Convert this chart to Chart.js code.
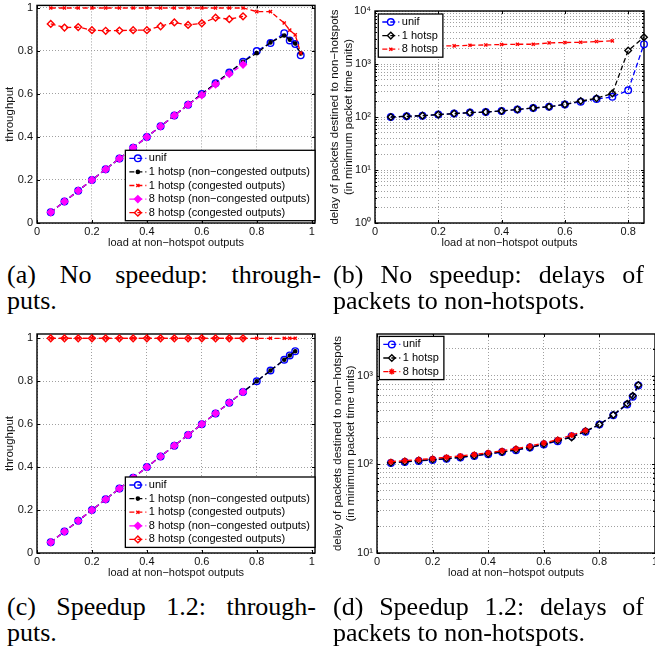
<!DOCTYPE html>
<html>
<head>
<meta charset="utf-8">
<title>Throughput and delay under hotspot traffic</title>
<script src="https://cdn.jsdelivr.net/npm/chart.js@4.4.1/dist/chart.umd.min.js"></script>
<style>
  html, body { margin: 0; padding: 0; background: #fff; overflow: hidden; }
  #sheet { position: relative; width: 655px; height: 650px; overflow: hidden; }
  #sheet canvas { position: absolute; }
  .cap {
    position: absolute;
    font-family: "Liberation Serif", "Times New Roman", serif;
    font-size: 26px;
    line-height: 26px;
    color: #000;
    white-space: nowrap;
  }
  .cap .l1 { text-align: justify; text-align-last: justify; }
</style>
</head>
<body>
<div id="sheet">
  <canvas id="chartA" width="330" height="252" style="left:0;top:0"></canvas>
  <canvas id="chartB" width="330" height="252" style="left:325px;top:0"></canvas>
  <canvas id="chartC" width="330" height="252" style="left:0;top:328px"></canvas>
  <canvas id="chartD" width="360" height="252" style="left:325px;top:328px"></canvas>

  <div class="cap" style="left:7px;top:262px;width:314px"><div class="l1">(a) No speedup: through-</div><div>puts.</div></div>
  <div class="cap" style="left:333px;top:262px;width:311px"><div class="l1">(b) No speedup: delays of</div><div>packets to non-hotspots.</div></div>
  <div class="cap" style="left:7px;top:594px;width:309px"><div class="l1">(c) Speedup 1.2: through-</div><div>puts.</div></div>
  <div class="cap" style="left:333px;top:594px;width:311px"><div class="l1">(d) Speedup 1.2: delays of</div><div>packets to non-hotspots.</div></div>
</div>

<script>
'use strict';
// ─────────────────────────────────────────────
//  DATA
// ─────────────────────────────────────────────

const LABELS_THR = [
  'unif',
  '1 hotsp (non−congested outputs)',
  '1 hotsp (congested outputs)',
  '8 hotsp (non−congested outputs)',
  '8 hotsp (congested outputs)',
];
const LABELS_DELAY = ['unif', '1 hotsp', '8 hotsp'];

const X_TITLE = 'load at non−hotspot outputs';
const Y_TITLE_THR = 'throughput';
const Y_TITLE_DELAY = ['delay of packets destined to non−hotspots', '(in minimum packet time units)'];

const X_TICKS = [0, 0.2, 0.4, 0.6, 0.8, 1];
const X_TICKS_B = [0, 0.2, 0.4, 0.6, 0.8];
const Y_TICKS_THR = [0, 0.2, 0.4, 0.6, 0.8, 1];
const Y_DECADES_B = [1, 10, 100, 1000, 10000];
const Y_DECADE_LABELS_B = ['10⁰', '10¹', '10²', '10³', '10⁴'];
const Y_DECADES_D = [10, 100, 1000];
const Y_DECADE_LABELS_D = ['10¹', '10²', '10³'];

// loads
const LOAD_A = [0.05, 0.1, 0.15, 0.2, 0.25, 0.3, 0.35, 0.4, 0.45, 0.5, 0.55, 0.6, 0.65, 0.7, 0.75, 0.8, 0.85, 0.9, 0.92, 0.94, 0.96];
const LOAD_TO_75 = [0.05, 0.1, 0.15, 0.2, 0.25, 0.3, 0.35, 0.4, 0.45, 0.5, 0.55, 0.6, 0.65, 0.7, 0.75];
const LOAD_B = [0.05, 0.1, 0.15, 0.2, 0.25, 0.3, 0.35, 0.4, 0.45, 0.5, 0.55, 0.6, 0.65, 0.7, 0.75, 0.8, 0.85];
const LOAD_B_HOT8 = [0.2, 0.25, 0.3, 0.35, 0.4, 0.45, 0.5, 0.55, 0.6, 0.65, 0.7, 0.75];
const LOAD_C = [0.05, 0.1, 0.15, 0.2, 0.25, 0.3, 0.35, 0.4, 0.45, 0.5, 0.55, 0.6, 0.65, 0.7, 0.75, 0.8, 0.85, 0.9, 0.92, 0.94];

// (a) no speedup, throughput
const A_UNIF      = [0.05, 0.1, 0.15, 0.2, 0.25, 0.3, 0.35, 0.4, 0.45, 0.5, 0.55, 0.6, 0.65, 0.7, 0.75, 0.8, 0.837, 0.883, 0.849, 0.832, 0.78];
const A_HOT1      = [0.05, 0.1, 0.15, 0.2, 0.25, 0.3, 0.35, 0.4, 0.45, 0.5, 0.55, 0.6, 0.65, 0.7, 0.75, 0.79, 0.84, 0.872, 0.853, 0.835, 0.788];
const A_HOT1_CONG = [1, 1, 1, 1, 1, 1, 1, 1, 1, 1, 1, 1, 1, 1, 1, 0.983, 0.983, 0.93, 0.897, 0.875, 0.79];
const A_HOT8      = [0.05, 0.1, 0.15, 0.2, 0.25, 0.3, 0.35, 0.4, 0.45, 0.5, 0.55, 0.595, 0.645, 0.694, 0.737];
const A_HOT8_CONG = [0.926, 0.909, 0.911, 0.897, 0.894, 0.895, 0.897, 0.897, 0.915, 0.933, 0.921, 0.929, 0.955, 0.948, 0.961];

// (b) no speedup, delay
const B_UNIF = [100, 103, 106, 111, 116, 121, 124, 130, 139, 148, 156, 173, 194, 218, 240, 318, 2370];
const B_HOT1 = [100, 103, 106, 111, 116, 121, 124, 130, 139, 148, 156, 173, 200, 225, 279, 1795, 3200];
const B_HOT8 = [2200, 2200, 2260, 2290, 2330, 2360, 2360, 2500, 2540, 2570, 2650, 2730];

// (c) speedup 1.2, throughput
const C_UNIF      = [0.05, 0.1, 0.15, 0.2, 0.25, 0.3, 0.35, 0.4, 0.45, 0.5, 0.55, 0.6, 0.65, 0.7, 0.75, 0.8, 0.85, 0.9, 0.92, 0.94];
const C_HOT1      = [0.05, 0.1, 0.15, 0.2, 0.25, 0.3, 0.35, 0.4, 0.45, 0.5, 0.55, 0.6, 0.65, 0.7, 0.75, 0.8, 0.85, 0.9, 0.92, 0.94];
const C_HOT1_CONG = [1, 1, 1, 1, 1, 1, 1, 1, 1, 1, 1, 1, 1, 1, 1, 1, 1, 1, 1, 1];
const C_HOT8      = [0.05, 0.1, 0.15, 0.2, 0.25, 0.3, 0.35, 0.4, 0.45, 0.5, 0.55, 0.6, 0.65, 0.7, 0.75];
const C_HOT8_CONG = [1, 1, 1, 1, 1, 1, 1, 1, 1, 1, 1, 1, 1, 1, 1];

// (d) speedup 1.2, delay
const D_UNIF = [103, 106, 109, 112, 115, 119, 124, 130, 137, 144, 154, 167, 182, 207, 232, 280, 357, 470, 575, 770];
const D_HOT1 = [104, 107, 110, 113, 116, 120, 125, 131, 138, 146, 155, 169, 185, 200, 236, 281, 360, 480, 590, 780];
const D_HOT8 = [107, 110, 113, 116, 120, 124, 129, 135, 142, 150, 160, 174, 190, 213, 240];

// ─────────────────────────────────────────────
//  STYLES
// ─────────────────────────────────────────────

const FONT = '"Liberation Sans", Arial, Helvetica, sans-serif';
Chart.defaults.font.family = FONT;
Chart.defaults.font.size = 11;
Chart.defaults.color = '#111';

const MARK = {
  unif:    { color: '#0000ff', pointStyle: 'circle',   radius: 3.3, fill: 'rgba(0,0,0,0)' },
  dot:     { color: '#000000', pointStyle: 'circle',   radius: 1.6, fill: '#000000' },
  xRed:    { color: '#ff0000', pointStyle: 'crossRot', radius: 2.2, fill: 'rgba(0,0,0,0)' },
  diaMag:  { color: '#ff00ff', pointStyle: 'rectRot',  radius: 3.4, fill: '#ff00ff' },
  diaRed:  { color: '#ff0000', pointStyle: 'rectRot',  radius: 3.4, fill: 'rgba(0,0,0,0)' },
  diaBlk:  { color: '#000000', pointStyle: 'rectRot',  radius: 3.3, fill: 'rgba(0,0,0,0)' },
  starRed: { color: '#ff0000', pointStyle: 'star',     radius: 3.0, fill: '#ff0000' },
};

const pts = (xs, ys) => ys.map((y, i) => ({ x: xs[i], y }));

function series(label, xs, ys, mark) {
  return {
    label,
    data: pts(xs, ys),
    borderColor: mark.color,
    borderWidth: 1.3,
    borderDash: [5, 3],
    pointStyle: mark.pointStyle,
    pointRadius: mark.radius,
    pointBorderColor: mark.color,
    pointBackgroundColor: mark.fill,
    pointBorderWidth: 1.4,
    tension: 0,
    clip: false,
  };
}

function logTicks(lo, hi) {
  const out = [];
  for (let d = lo; d <= hi; d *= 10) {
    for (let m = 1; m <= 9; m++) {
      if (d * m <= hi) out.push(d * m);
    }
  }
  return out;
}

// axis box with inward tick marks
const frameBox = {
  id: 'frameBox',
  beforeDatasetsDraw(chart) {
    const { ctx, chartArea: a, scales: { x, y } } = chart;
    ctx.save();
    ctx.strokeStyle = '#000';
    ctx.lineWidth = 1;
    ctx.beginPath();
    x.ticks.forEach(t => {
      const px = Math.round(x.getPixelForValue(t.value)) + 0.5;
      ctx.moveTo(px, a.bottom); ctx.lineTo(px, a.bottom - 3);
      ctx.moveTo(px, a.top); ctx.lineTo(px, a.top + 3);
    });
    y.ticks.forEach(t => {
      const py = Math.round(y.getPixelForValue(t.value)) + 0.5;
      const len = t.label ? 3 : 2;
      ctx.moveTo(a.left, py); ctx.lineTo(a.left + len, py);
      ctx.moveTo(a.right, py); ctx.lineTo(a.right - len, py);
    });
    ctx.stroke();
    ctx.lineWidth = 1.4;
    ctx.strokeRect(a.left, a.top, a.right - a.left, a.bottom - a.top);
    ctx.restore();
  },
};

// boxed legend placed inside the plot area
const boxLegend = {
  id: 'boxLegend',
  afterDatasetsDraw(chart, args, o) {
    const { ctx, chartArea: a } = chart;
    const items = chart.data.datasets;
    ctx.save();
    ctx.font = '11px ' + FONT;
    const textW = Math.max(...items.map(d => ctx.measureText(d.label).width));
    const rowH = 13.6;
    const w = 23.5 + textW + 5;
    const h = items.length * rowH + 2.4;
    const left = o.corner === 'nw' ? a.left + o.dx : a.right - o.dx - w;
    const top = o.corner === 'nw' ? a.top + o.dy : a.bottom - o.dy - h;

    ctx.fillStyle = '#fff';
    ctx.fillRect(left, top, w, h);
    ctx.strokeStyle = '#000';
    ctx.lineWidth = 1.3;
    ctx.strokeRect(left, top, w, h);

    items.forEach((d, i) => {
      const cy = top + 1.2 + rowH * (i + 0.5);
      ctx.strokeStyle = d.borderColor;
      ctx.lineWidth = d.borderWidth;
      ctx.setLineDash(d.borderDash);
      ctx.beginPath();
      ctx.moveTo(left + 4, cy);
      ctx.lineTo(left + 21, cy);
      ctx.stroke();
      ctx.setLineDash([]);

      ctx.strokeStyle = d.pointBorderColor;
      ctx.fillStyle = d.pointBackgroundColor;
      ctx.lineWidth = d.pointBorderWidth;
      Chart.helpers.drawPoint(ctx, {
        pointStyle: d.pointStyle, radius: d.pointRadius, rotation: 0, borderWidth: d.pointBorderWidth,
      }, left + 12.5, cy);

      ctx.fillStyle = '#000';
      ctx.textBaseline = 'middle';
      ctx.textAlign = 'left';
      ctx.fillText(d.label, left + 23.5, cy);
    });
    ctx.restore();
  },
};

function makePanel(id, cfg) {
  const canvas = document.getElementById(id);
  const W = canvas.width, H = canvas.height, a = cfg.area;
  const grid = { color: '#a0a0a0', lineWidth: 1, drawTicks: false };
  const border = { display: false, dash: [1, 2] };

  return new Chart(canvas, {
    type: 'line',
    data: { datasets: cfg.datasets.map((d, i) => ({ ...d, order: -i })) },
    options: {
      responsive: false,
      animation: false,
      devicePixelRatio: 1,
      events: [],
      layout: { padding: { left: 0, top: a.top, right: W - a.right, bottom: 0 } },
      plugins: {
        legend: { display: false },
        tooltip: { enabled: false },
        boxLegend: cfg.legend,
      },
      scales: {
        x: {
          type: 'linear',
          min: 0,
          max: cfg.xMax,
          grid, border,
          afterBuildTicks: s => { s.ticks = cfg.xTicks.map(v => ({ value: v })); },
          afterFit: s => { s.height = H - a.bottom; s.paddingLeft = 0; s.paddingRight = 0; },
          ticks: { autoSkip: false, maxRotation: 0, padding: 2, callback: v => String(v) },
          title: { display: true, text: X_TITLE, padding: { top: 0, bottom: cfg.xTitlePad } },
        },
        y: {
          type: cfg.yLog ? 'logarithmic' : 'linear',
          min: cfg.yMin,
          max: cfg.yMax,
          grid, border,
          afterBuildTicks: s => { s.ticks = cfg.yTicks.map(v => ({ value: v })); },
          afterFit: s => { s.width = a.left; s.paddingTop = 0; s.paddingBottom = 0; },
          ticks: { autoSkip: false, padding: 4, callback: cfg.yLabel },
          title: { display: true, text: cfg.yTitle, font: { size: 11.5 }, padding: { top: cfg.yTitlePad, bottom: 0 } },
        },
      },
    },
    plugins: [frameBox, boxLegend],
  });
}

const plainLabel = v => String(v);
const decadeLabel = (decades, labels) => v => {
  const k = decades.indexOf(v);
  return k < 0 ? '' : labels[k];
};

// (a)
makePanel('chartA', {
  area: { left: 37, top: 4, right: 315, bottom: 223 },
  xMax: 1.012, xTicks: X_TICKS, xTitlePad: 2.4,
  yMin: 0, yMax: 1.012, yTicks: Y_TICKS_THR, yLabel: plainLabel,
  yTitle: Y_TITLE_THR, yTitlePad: 3.2,
  legend: { corner: 'se', dx: 0, dy: 2.3 },
  datasets: [
    series(LABELS_THR[0], LOAD_A, A_UNIF, MARK.unif),
    series(LABELS_THR[1], LOAD_A, A_HOT1, MARK.dot),
    series(LABELS_THR[2], LOAD_A, A_HOT1_CONG, MARK.xRed),
    series(LABELS_THR[3], LOAD_TO_75, A_HOT8, MARK.diaMag),
    series(LABELS_THR[4], LOAD_TO_75, A_HOT8_CONG, MARK.diaRed),
  ],
});

// (b)
makePanel('chartB', {
  area: { left: 50, top: 11, right: 319, bottom: 223 },
  xMax: 0.85, xTicks: X_TICKS_B, xTitlePad: 2.1,
  yLog: true, yMin: 1, yMax: 10000, yTicks: logTicks(1, 10000),
  yLabel: decadeLabel(Y_DECADES_B, Y_DECADE_LABELS_B),
  yTitle: Y_TITLE_DELAY, yTitlePad: 3.2,
  legend: { corner: 'nw', dx: 3.3, dy: 3 },
  datasets: [
    series(LABELS_DELAY[0], LOAD_B, B_UNIF, MARK.unif),
    series(LABELS_DELAY[1], LOAD_B, B_HOT1, MARK.diaBlk),
    series(LABELS_DELAY[2], LOAD_B_HOT8, B_HOT8, MARK.xRed),
  ],
});

// (c)
makePanel('chartC', {
  area: { left: 37, top: 6, right: 315, bottom: 225 },
  xMax: 1.012, xTicks: X_TICKS, xTitlePad: 0.1,
  yMin: 0, yMax: 1.02, yTicks: Y_TICKS_THR, yLabel: plainLabel,
  yTitle: Y_TITLE_THR, yTitlePad: 3.2,
  legend: { corner: 'se', dx: 0, dy: 5.6 },
  datasets: [
    series(LABELS_THR[0], LOAD_C, C_UNIF, MARK.unif),
    series(LABELS_THR[1], LOAD_C, C_HOT1, MARK.dot),
    series(LABELS_THR[2], LOAD_C, C_HOT1_CONG, MARK.xRed),
    series(LABELS_THR[3], LOAD_TO_75, C_HOT8, MARK.diaMag),
    series(LABELS_THR[4], LOAD_TO_75, C_HOT8_CONG, MARK.diaRed),
  ],
});

// (d)
makePanel('chartD', {
  area: { left: 52, top: 6, right: 330, bottom: 225 },
  xMax: 1, xTicks: X_TICKS, xTitlePad: 0.1,
  yLog: true, yMin: 10, yMax: 2935, yTicks: logTicks(10, 2935),
  yLabel: decadeLabel(Y_DECADES_D, Y_DECADE_LABELS_D),
  yTitle: Y_TITLE_DELAY, yTitlePad: 5.5,
  legend: { corner: 'nw', dx: 2.3, dy: 2.4 },
  datasets: [
    series(LABELS_DELAY[0], LOAD_C, D_UNIF, MARK.unif),
    series(LABELS_DELAY[1], LOAD_C, D_HOT1, MARK.diaBlk),
    series(LABELS_DELAY[2], LOAD_TO_75, D_HOT8, MARK.starRed),
  ],
});
</script>
</body>
</html>
